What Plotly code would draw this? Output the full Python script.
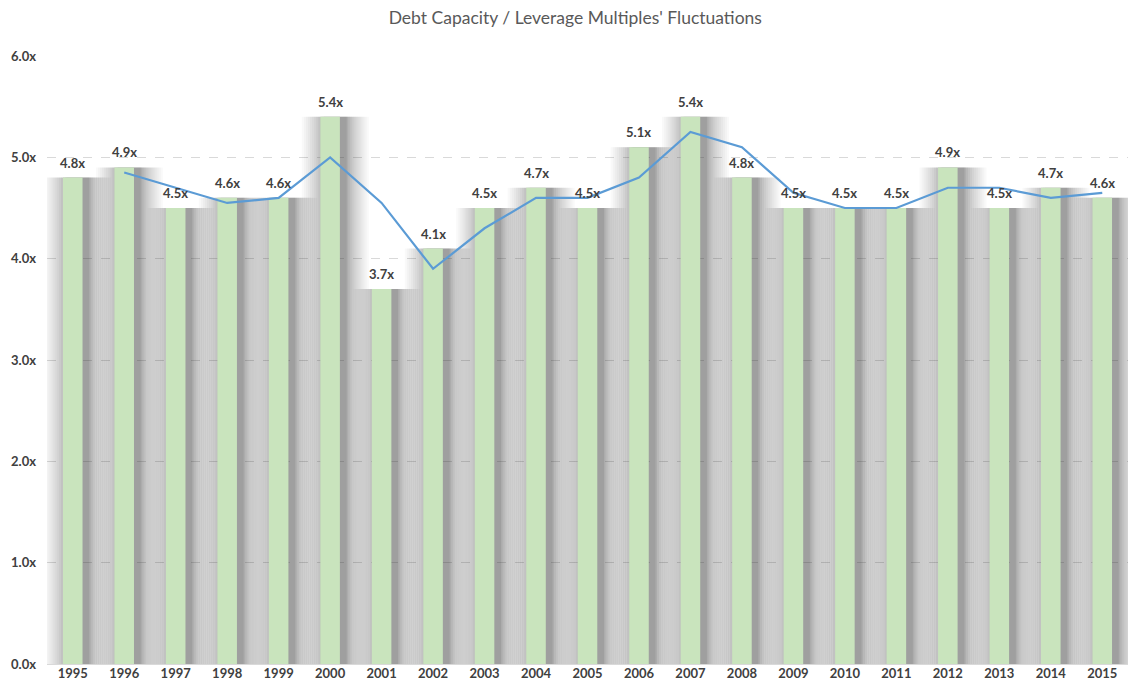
import plotly.graph_objects as go

years = [str(y) for y in range(1995, 2016)]
multiples = [4.8, 4.9, 4.5, 4.6, 4.6, 5.4, 3.7, 4.1, 4.5, 4.7, 4.5, 5.1, 5.4, 4.8, 4.5, 4.5, 4.5, 4.9, 4.5, 4.7, 4.6]
moving_avg_years = years[1:]
moving_avg = [4.85, 4.7, 4.55, 4.6, 5.0, 4.55, 3.9, 4.3, 4.6, 4.6, 4.8, 5.25, 5.1, 4.65, 4.5, 4.5, 4.7, 4.7, 4.6, 4.65]
labels = [f"{v:.1f}x" for v in multiples]
y_ticks = [0, 1, 2, 3, 4, 5, 6]
y_tick_labels = [f"{v:.1f}x" for v in y_ticks]

FONT = "Lato, Open Sans, sans-serif"
SHADOW_SHIFT = 0.1

fig = go.Figure()

# soft drop-shadow: many thin translucent layers, shifted slightly to the right
shadow_layers = [(1.3, 0.028), (1.22, 0.028), (1.14, 0.03), (1.06, 0.03), (0.98, 0.035),
                 (0.90, 0.035), (0.82, 0.04), (0.74, 0.045), (0.66, 0.055), (0.58, 0.065),
                 (0.50, 0.085), (0.44, 0.1)]
for w, a in shadow_layers:
    fig.add_trace(go.Bar(
        x=years, y=multiples, width=w, offset=-w / 2 + SHADOW_SHIFT,
        marker=dict(color=f"rgba(50,50,50,{a})", line=dict(width=0)),
        hoverinfo="skip", showlegend=False,
    ))

fig.add_trace(go.Bar(
    x=years, y=multiples, width=0.38,
    marker=dict(color="#c9e4bd", line=dict(width=0)),
    showlegend=False,
))

fig.add_trace(go.Scatter(
    x=moving_avg_years, y=moving_avg, mode="lines",
    line=dict(color="#5b9bd5", width=2.2),
    showlegend=False,
))

for i, (v, lab) in enumerate(zip(multiples, labels)):
    fig.add_annotation(
        x=i, y=v, xref="x", yref="y", text=lab, showarrow=False, yshift=15,
        font=dict(family=FONT, size=13, color="#404040", weight="bold"),
    )

fig.update_layout(
    width=1128, height=694,
    barmode="overlay",
    paper_bgcolor="white", plot_bgcolor="white",
    margin=dict(l=47, r=0, t=56, b=30, autoexpand=False),
    title=dict(text="Debt Capacity / Leverage Multiples' Fluctuations",
               x=0.51, xanchor="center", y=0.974, yanchor="middle",
               font=dict(family=FONT, size=17.5, color="#595959")),
)
fig.update_xaxes(
    type="category", showgrid=False, showline=False, ticks="", automargin=False,
    tickfont=dict(family=FONT, size=13, color="#404040", weight="bold"),
    range=[-0.5, 20.5],
)
fig.update_yaxes(
    range=[0, 6], tickvals=y_ticks, ticktext=y_tick_labels, automargin=False,
    showgrid=True, gridcolor="#d9d9d9", griddash="dash", gridwidth=1,
    zeroline=True, zerolinecolor="#d9d9d9", zerolinewidth=1,
    tickfont=dict(family=FONT, size=13, color="#404040", weight="bold"),
    ticklabelstandoff=10,
)

fig.write_html(
    "out.html",
    config={"displayModeBar": False},
    post_script="document.body.style.margin='0';document.body.style.overflow='hidden';",
)
